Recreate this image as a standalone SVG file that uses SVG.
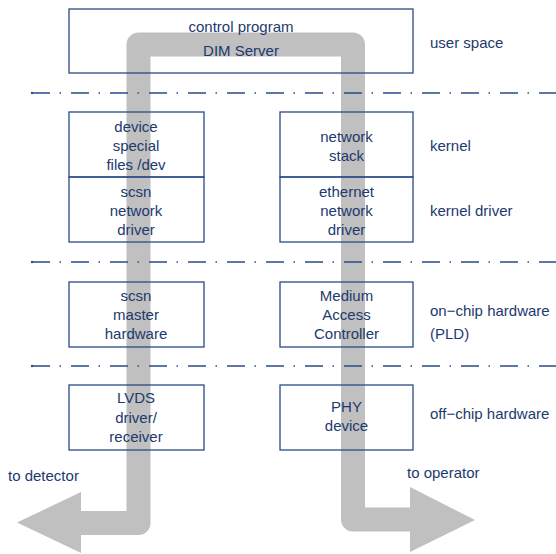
<svg xmlns="http://www.w3.org/2000/svg" width="556" height="554" viewBox="0 0 556 554">
  <style>
    text { font-family: "Liberation Sans", Arial, sans-serif; font-size: 15px; fill: #1c3a6e; }
    .c { text-anchor: middle; }
    .box { fill: none; stroke: #2a4b86; stroke-width: 1.3; }
    .sep { stroke: #2a4b86; stroke-width: 1.3; stroke-dasharray: 18 9.5 1.5 10; fill: none; }
    .flow { fill: none; stroke: #c0c0c0; stroke-width: 24; stroke-linejoin: round; }
    .head { fill: #c0c0c0; }
  </style>

  <!-- data path band, drawn beneath everything else -->
  <g id="data-path">
    <path class="flow" d="M81,523 H138.5 V44.5 H353 V519.5 H410"/>
    <polygon class="head" points="81,492 17,522.5 81,553"/>
    <polygon class="head" points="410,487 475,520 410,552"/>
  </g>

  <!-- layer separators -->
  <g id="separators">
    <line class="sep" x1="32" y1="93" x2="556" y2="93"/>
    <line class="sep" x1="32" y1="262" x2="556" y2="262"/>
    <line class="sep" x1="32" y1="366" x2="556" y2="366"/>
    <circle cx="32" cy="93" r="1.2" fill="#2a4b86"/>
    <circle cx="32" cy="262" r="1.2" fill="#2a4b86"/>
    <circle cx="32" cy="366" r="1.2" fill="#2a4b86"/>
  </g>

  <g id="control-program">
    <rect class="box" x="69" y="9" width="344" height="64"/>
    <text class="c" x="241" y="32">control program</text>
    <text class="c" x="241" y="56">DIM Server</text>
  </g>

  <g id="device-files">
    <rect class="box" x="69" y="112" width="135" height="65"/>
    <text class="c" x="136" y="132">device</text>
    <text class="c" x="136" y="151">special</text>
    <text class="c" x="136" y="170">files /dev</text>
  </g>

  <g id="scsn-driver">
    <rect class="box" x="69" y="177" width="135" height="65"/>
    <text class="c" x="136" y="197">scsn</text>
    <text class="c" x="136" y="216">network</text>
    <text class="c" x="136" y="235">driver</text>
  </g>

  <g id="network-stack">
    <rect class="box" x="280" y="112" width="133" height="65"/>
    <text class="c" x="346.5" y="142">network</text>
    <text class="c" x="346.5" y="161">stack</text>
  </g>

  <g id="ethernet-driver">
    <rect class="box" x="280" y="177" width="133" height="65"/>
    <text class="c" x="346.5" y="197">ethernet</text>
    <text class="c" x="346.5" y="216">network</text>
    <text class="c" x="346.5" y="235">driver</text>
  </g>

  <g id="scsn-master">
    <rect class="box" x="69" y="282" width="135" height="65"/>
    <text class="c" x="136" y="301">scsn</text>
    <text class="c" x="136" y="320">master</text>
    <text class="c" x="136" y="339">hardware</text>
  </g>

  <g id="mac">
    <rect class="box" x="280" y="282" width="133" height="65"/>
    <text class="c" x="346.5" y="301">Medium</text>
    <text class="c" x="346.5" y="320">Access</text>
    <text class="c" x="346.5" y="339">Controller</text>
  </g>

  <g id="lvds">
    <rect class="box" x="69" y="385" width="135" height="65"/>
    <text class="c" x="136" y="403">LVDS</text>
    <text class="c" x="136" y="423">driver/</text>
    <text class="c" x="136" y="442">receiver</text>
  </g>

  <g id="phy">
    <rect class="box" x="280" y="385" width="133" height="65"/>
    <text class="c" x="346.5" y="412">PHY</text>
    <text class="c" x="346.5" y="431">device</text>
  </g>

  <!-- layer names and endpoints -->
  <g id="labels">
    <text x="430" y="48">user space</text>
    <text x="430" y="151">kernel</text>
    <text x="430" y="216">kernel driver</text>
    <text x="430" y="316">on−chip hardware</text>
    <text x="430" y="339">(PLD)</text>
    <text x="430" y="419">off−chip hardware</text>
    <text x="8" y="481">to detector</text>
    <text x="407" y="478">to operator</text>
  </g>
</svg>
